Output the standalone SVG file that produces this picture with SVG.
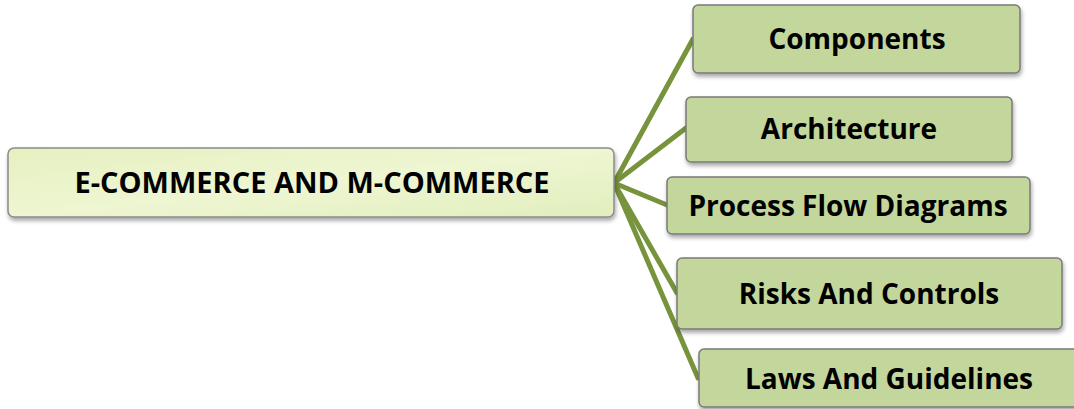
<svg xmlns="http://www.w3.org/2000/svg" width="1074" height="409" viewBox="0 0 1074 409">
<defs>
<linearGradient id="hubGrad" x1="0" y1="0" x2="1" y2="1">
<stop offset="0" stop-color="#e6f0c0"/>
<stop offset="0.5" stop-color="#eef6d2"/>
<stop offset="1" stop-color="#e2eebd"/>
</linearGradient>
<filter id="sh" x="-5%" y="-20%" width="110%" height="150%">
<feGaussianBlur in="SourceAlpha" stdDeviation="2"/>
<feOffset dx="1" dy="3" result="b"/>
<feComponentTransfer><feFuncA type="linear" slope="0.35"/></feComponentTransfer>
<feMerge><feMergeNode/><feMergeNode in="SourceGraphic"/></feMerge>
</filter>
</defs>
<style>
.box{fill:#c3d69b;stroke:#7a7a7a;stroke-width:1.5;filter:url(#sh)}
.hub{fill:url(#hubGrad);stroke:#8a8a8a;stroke-width:1.5;filter:url(#sh)}
.t{font-family:"Open Sans","DejaVu Sans",sans-serif;font-weight:bold;font-size:28px;fill:#000;text-anchor:middle}
.h{font-size:29px}
.c{stroke:#77933c;stroke-width:5;fill:none;stroke-linecap:round}
</style>
<g id="connectors">
<line class="c" x1="614" y1="183" x2="693" y2="39"/>
<line class="c" x1="614" y1="183" x2="686" y2="128"/>
<line class="c" x1="614" y1="183" x2="667" y2="205"/>
<line class="c" x1="614" y1="183" x2="677" y2="293"/>
<line class="c" x1="614" y1="183" x2="698" y2="378"/>
</g>
<g id="hub">
<rect class="hub" x="8" y="148" width="606" height="69" rx="6"/>
<text class="t h" x="312" y="193">E-COMMERCE AND M-COMMERCE</text>
</g>
<g id="components">
<rect class="box" x="693" y="5" width="327" height="68" rx="5"/>
<text class="t" x="857" y="49">Components</text>
</g>
<g id="architecture">
<rect class="box" x="686" y="97" width="326" height="65" rx="5"/>
<text class="t" x="849" y="139">Architecture</text>
</g>
<g id="process">
<rect class="box" x="667" y="177" width="363" height="57" rx="5"/>
<text class="t" x="848" y="216">Process Flow Diagrams</text>
</g>
<g id="risks">
<rect class="box" x="677" y="258" width="385" height="71" rx="5"/>
<text class="t" x="869" y="304">Risks And Controls</text>
</g>
<g id="laws">
<rect class="box" x="699" y="349" width="385" height="58" rx="5"/>
<text class="t" x="889" y="389">Laws And Guidelines</text>
</g>
</svg>
